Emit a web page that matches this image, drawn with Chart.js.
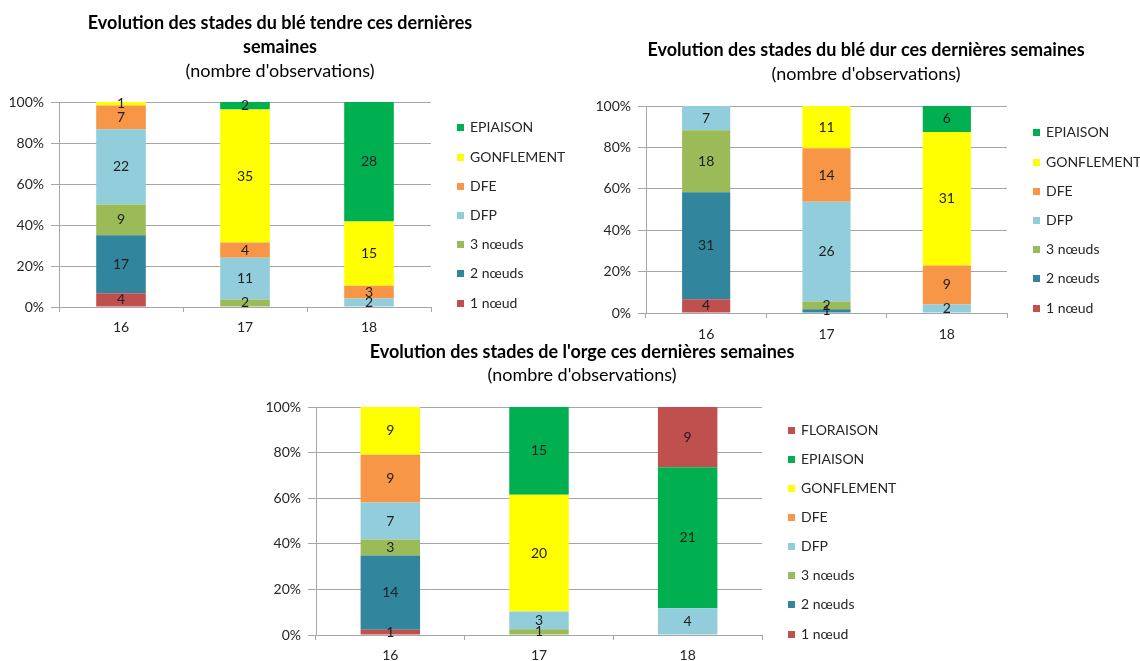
<!DOCTYPE html>
<html lang="fr">
<head>
<meta charset="utf-8">
<title>Evolution des stades</title>
<script src="https://cdn.jsdelivr.net/npm/chart.js@4.4.1/dist/chart.umd.min.js"></script>
<style>
  html, body { margin: 0; padding: 0; background: #fff; }
  body { width: 1140px; height: 661px; position: relative; overflow: hidden; }
  .box { position: absolute; }
  .box canvas { display: block; }
</style>
</head>
<body>
<div class="box" style="left:-20px;top:0"><canvas id="bleTendreChart" width="600" height="343"></canvas></div>
<div class="box" style="left:592px;top:0"><canvas id="bleDurChart" width="548" height="349"></canvas></div>
<div class="box" style="left:250px;top:330px"><canvas id="orgeChart" width="664" height="331"></canvas></div>
<script>
const weeks = ["16", "17", "18"];
const stagesBle = ["1 nœud", "2 nœuds", "3 nœuds", "DFP", "DFE", "GONFLEMENT", "EPIAISON"];
const stagesOrge = ["1 nœud", "2 nœuds", "3 nœuds", "DFP", "DFE", "GONFLEMENT", "EPIAISON", "FLORAISON"];
const stageColors = ["#C0504D", "#31859C", "#9BBB59", "#92CDDC", "#F79646", "#FFFF00", "#00B050", "#C0504D"];

// nombre d'observations par stade (une ligne par stade, une colonne par semaine)
const bleTendreCounts = [
  [4, 0, 0],
  [17, 0, 0],
  [9, 2, 0],
  [22, 11, 2],
  [7, 4, 3],
  [1, 35, 15],
  [0, 2, 28]
];
const bleDurCounts = [
  [4, 0, 0],
  [31, 1, 0],
  [18, 2, 0],
  [7, 26, 2],
  [0, 14, 9],
  [0, 11, 31],
  [0, 0, 6]
];
const orgeCounts = [
  [1, 0, 0],
  [14, 0, 0],
  [3, 1, 0],
  [7, 3, 4],
  [9, 0, 0],
  [9, 20, 0],
  [0, 15, 21],
  [0, 0, 9]
];

const GRID = "#a6a6a6";
const TEXT = "#262626";
Chart.defaults.font.family = "Lato, 'Open Sans', sans-serif";
Chart.defaults.font.size = 14;
Chart.defaults.color = TEXT;

// valeurs des barres dans les segments
const barLabels = {
  id: "barLabels",
  afterDatasetsDraw(chart) {
    const ctx = chart.ctx;
    ctx.save();
    ctx.font = "14px Lato, 'Open Sans', sans-serif";
    ctx.fillStyle = "#1e1e1e";
    ctx.textAlign = "center";
    ctx.textBaseline = "middle";
    chart.data.datasets.forEach((ds, i) => {
      chart.getDatasetMeta(i).data.forEach((bar, j) => {
        const n = ds.counts[j];
        if (!n) return;
        ctx.fillText(n, bar.x, (bar.y + bar.base) / 2);
      });
    });
    ctx.restore();
  }
};

// légende à droite, façon Excel
const sideLegend = {
  id: "sideLegend",
  afterDraw(chart, args, opts) {
    const { ctx, chartArea } = chart;
    const x = chartArea.right + opts.gap;
    ctx.save();
    ctx.font = "14px Lato, 'Open Sans', sans-serif";
    ctx.textBaseline = "middle";
    ctx.textAlign = "left";
    chart.data.datasets.forEach((ds, i) => {
      const y = chartArea.bottom - opts.bottom - i * opts.step;
      ctx.fillStyle = ds.backgroundColor;
      ctx.fillRect(x, Math.round(y - 3.5), 7, 7);
      ctx.fillStyle = TEXT;
      ctx.fillText(ds.label, x + 13, y);
    });
    ctx.restore();
  }
};

function toPercent(counts) {
  const totals = weeks.map((w, j) => counts.reduce((s, row) => s + row[j], 0));
  return counts.map(row => row.map((v, j) => (v ? (v / totals[j]) * 100 : null)));
}

function makeChart(id, title, stages, counts, lay) {
  const pct = toPercent(counts);
  const datasets = stages.map((name, i) => ({
    label: name,
    data: pct[i],
    counts: counts[i],
    backgroundColor: stageColors[i],
    borderWidth: 0,
    categoryPercentage: 0.4,
    barPercentage: 1
  }));

  return new Chart(document.getElementById(id), {
    type: "bar",
    data: { labels: weeks, datasets },
    plugins: [barLabels, sideLegend],
    options: {
      responsive: false,
      animation: false,
      layout: { padding: 0 },
      plugins: {
        legend: { display: false },
        tooltip: { enabled: false },
        title: {
          display: true,
          text: title,
          color: "#000",
          font: { size: 18, weight: "bold", lineHeight: "24px" },
          padding: { top: lay.titleTop, bottom: 0 }
        },
        subtitle: {
          display: true,
          text: "(nombre d'observations)",
          color: "#000",
          font: { size: 18, lineHeight: "20px" },
          padding: { top: lay.subTop, bottom: lay.subBottom }
        },
        sideLegend: { gap: 26, bottom: lay.legendBottom, step: lay.legendStep }
      },
      scales: {
        x: {
          stacked: true,
          grid: { display: true, drawOnChartArea: false, drawTicks: true, tickLength: 5, color: GRID, offset: true },
          border: { display: true, color: GRID },
          ticks: { padding: lay.xPad, color: TEXT },
          afterFit: s => { s.height = lay.xHeight; }
        },
        y: {
          stacked: true,
          min: 0,
          max: 100,
          grid: { color: GRID, tickLength: 8 },
          border: { display: true, color: GRID },
          ticks: { stepSize: 20, padding: 7, color: TEXT, callback: v => v + "%" },
          afterFit: s => { s.width = lay.yWidth; }
        },
        pad: {
          position: "right",
          grid: { display: false },
          border: { display: false },
          ticks: { display: false },
          afterFit: s => { s.width = lay.rightWidth; }
        }
      }
    }
  });
}

makeChart("bleTendreChart",
  ["Evolution des stades du blé tendre ces dernières", "semaines"],
  stagesBle, bleTendreCounts,
  { titleTop: 11, subTop: 2, subBottom: 21, xPad: 7, xHeight: 36, yWidth: 79, rightWidth: 149, legendBottom: 4, legendStep: 29.2 });

makeChart("bleDurChart",
  "Evolution des stades du blé dur ces dernières semaines",
  stagesBle, bleDurCounts,
  { titleTop: 38, subTop: 2, subBottom: 22, xPad: 8, xHeight: 36, yWidth: 54, rightWidth: 133, legendBottom: 5, legendStep: 29.2 });

makeChart("orgeChart",
  "Evolution des stades de l'orge ces dernières semaines",
  stagesOrge, orgeCounts,
  { titleTop: 10, subTop: 1, subBottom: 22, xPad: 7, xHeight: 26, yWidth: 66, rightWidth: 152, legendBottom: 1, legendStep: 29.1 });
</script>
</body>
</html>
